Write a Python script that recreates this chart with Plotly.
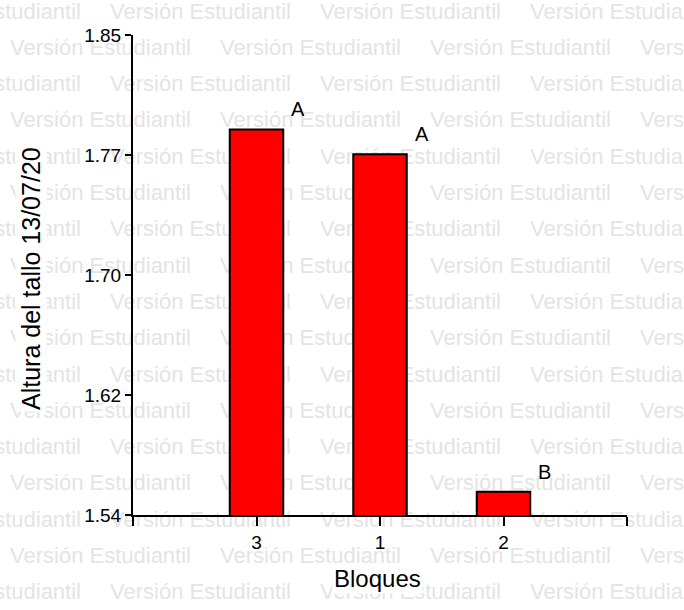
import plotly.graph_objects as go

# ---------------- data ----------------
categories = ["3", "1", "2"]
values = [1.789, 1.773, 1.555]
letters = ["A", "A", "B"]
y_tickvals = [1.54, 1.6175, 1.695, 1.7725, 1.85]
y_ticktext = ["1.54", "1.62", "1.70", "1.77", "1.85"]
y_range = [1.54, 1.85]
x_title = "Bloques"
y_title = "Altura del tallo 13/07/20"
watermark = "Versión Estudiantil"

# ---------------- layout geometry ----------------
W, H = 684, 610
left, right, top, bottom = 133, 627, 35, 515
bar_width = 0.433

fig = go.Figure()

# watermark (full-figure hidden axes, drawn first so it sits under the bars)
wx, wy, wt = [], [], []
row_step = 36.3
period = 210
for r in range(18):
    yy = 13 + r * row_step
    off = 110 if r % 2 == 0 else 10
    xx = off - period
    while xx < W:
        wx.append(xx)
        wy.append(yy)
        wt.append(watermark)
        xx += period
fig.add_trace(go.Scatter(
    x=wx, y=wy, text=wt, mode="text", textposition="middle right",
    textfont=dict(family="Liberation Sans, Arial, sans-serif", size=22, color="#e4e4e4"),
    hoverinfo="skip", showlegend=False, xaxis="x", yaxis="y"))

xs = list(range(len(categories)))
fig.add_trace(go.Bar(
    x=xs, y=values, width=bar_width,
    marker=dict(color="#ff0000", line=dict(color="black", width=2)),
    showlegend=False, xaxis="x2", yaxis="y2"))

for xi, v, t in zip(xs, values, letters):
    fig.add_annotation(x=xi + bar_width / 2, y=v, xref="x2", yref="y2", text=t,
                       showarrow=False, xanchor="left", yanchor="middle",
                       xshift=6, yshift=20,
                       font=dict(family="Liberation Sans, Arial, sans-serif", size=20, color="black"))

fig.add_annotation(x=377 / W, y=1 - 578 / H, xref="paper", yref="paper",
                   text=x_title, showarrow=False, xanchor="center", yanchor="middle",
                   bgcolor="white",
                   font=dict(family="Liberation Sans, Arial, sans-serif", size=24, color="black"))
fig.add_annotation(x=31 / W, y=1 - 279 / H, xref="paper", yref="paper",
                   text=y_title, showarrow=False, xanchor="center", yanchor="middle",
                   textangle=-90, bgcolor="white",
                   font=dict(family="Liberation Sans, Arial, sans-serif", size=25, color="black"))

axis_font = dict(family="Liberation Sans, Arial, sans-serif", size=19, color="black")
fig.update_layout(
    template="none",
    width=W, height=H, autosize=False,
    margin=dict(l=0, r=0, t=0, b=0, pad=0, autoexpand=False),
    paper_bgcolor="white", plot_bgcolor="rgba(0,0,0,0)",
    showlegend=False,
    xaxis=dict(domain=[0, 1], range=[0, W], visible=False, fixedrange=True, automargin=False),
    yaxis=dict(domain=[0, 1], range=[H, 0], visible=False, fixedrange=True, automargin=False),
    xaxis2=dict(domain=[left / W, right / W], range=[-1, len(categories)], anchor="y2",
                automargin=False, fixedrange=True,
                tickmode="array", tickvals=[-1] + xs + [len(categories)],
                ticktext=[""] + categories + [""],
                ticks="outside", ticklen=9, tickwidth=2, tickcolor="black",
                showline=True, linewidth=2, linecolor="black",
                showgrid=False, zeroline=False, tickfont=axis_font),
    yaxis2=dict(domain=[1 - bottom / H, 1 - top / H], range=y_range, anchor="x2",
                automargin=False, fixedrange=True,
                tickmode="array", tickvals=y_tickvals, ticktext=y_ticktext,
                ticks="outside", ticklen=6, tickwidth=2, tickcolor="black",
                showline=True, linewidth=2, linecolor="black",
                showgrid=False, zeroline=False, tickfont=axis_font),
)

fig.write_html(
    "out.html",
    config={"responsive": False, "displayModeBar": False},
    post_script="document.body.style.margin='0';document.body.style.overflow='hidden';",
)
